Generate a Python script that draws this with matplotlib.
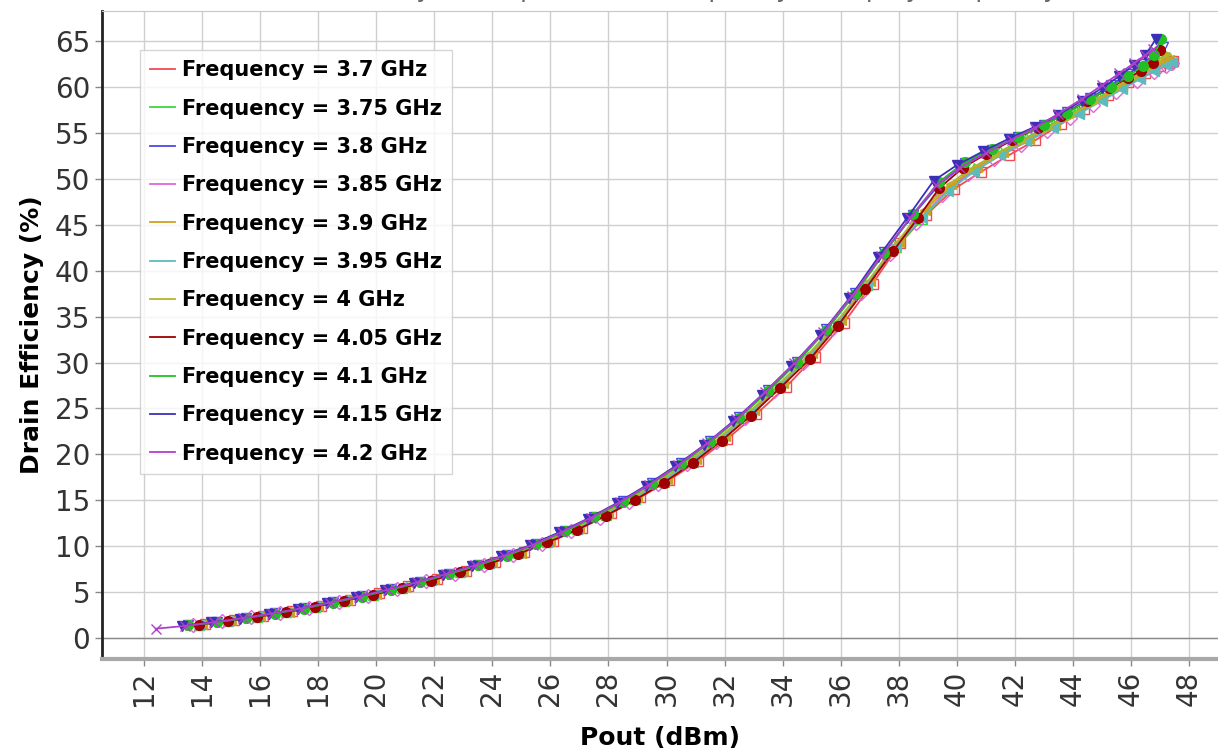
import matplotlib
matplotlib.use("Agg")
import matplotlib.pyplot as plt
from matplotlib.ticker import MultipleLocator

# frequencies (GHz) and per-frequency sweep data: Pout (dBm), drain efficiency (%)
freqs = ["3.7", "3.75", "3.8", "3.85", "3.9", "3.95", "4", "4.05", "4.1", "4.15", "4.2"]

pout_370 = [14.1, 15.1, 16.1, 17.1, 18.1, 19.1, 20.1, 21.1, 22.1, 23.1, 24.1, 25.1, 26.1, 27.1,
            28.1, 29.1, 30.1, 31.1, 32.1, 33.1, 34.1, 35.1, 36.1, 37.1, 38.05, 38.95, 39.9,
            40.85, 41.8, 42.7, 43.6, 44.4, 45.2, 45.9, 46.5, 47.0, 47.3, 47.45]
eff_370 = [1.5, 1.9, 2.4, 2.9, 3.5, 4.15, 4.85, 5.6, 6.4, 7.3, 8.3, 9.4, 10.6, 12.0,
           13.6, 15.3, 17.2, 19.3, 21.7, 24.4, 27.3, 30.6, 34.3, 38.6, 43.0, 46.1, 48.9,
           50.8, 52.6, 54.2, 56.0, 57.6, 59.2, 60.6, 61.6, 62.3, 62.6, 62.8]

pout_375 = [13.9, 14.9, 15.9, 16.9, 17.9, 18.9, 19.9, 20.9, 21.9, 22.9, 23.9, 24.9, 25.9, 26.9,
            27.9, 28.9, 29.9, 30.9, 31.9, 32.9, 33.9, 34.9, 35.9, 36.9, 37.9, 38.8, 39.7,
            40.6, 41.5, 42.4, 43.3, 44.1, 44.9, 45.6, 46.2, 46.7, 47.1, 47.3]
eff_375 = [1.45, 1.85, 2.3, 2.8, 3.4, 4.05, 4.7, 5.45, 6.3, 7.2, 8.15, 9.2, 10.45, 11.85,
           13.4, 15.1, 17.0, 19.15, 21.6, 24.4, 27.4, 30.6, 34.2, 38.4, 42.6, 45.6, 48.8,
           51.2, 53.0, 54.5, 56.0, 57.4, 58.9, 60.2, 61.3, 62.3, 63.0, 63.3]

pout_380 = [13.5, 14.5, 15.5, 16.5, 17.5, 18.5, 19.5, 20.5, 21.5, 22.5, 23.5, 24.5, 25.5, 26.5,
            27.5, 28.5, 29.5, 30.5, 31.5, 32.5, 33.5, 34.5, 35.5, 36.5, 37.5, 38.5, 39.4,
            40.3, 41.2, 42.1, 43.0, 43.8, 44.6, 45.3, 45.9, 46.4, 46.8, 47.1]
eff_380 = [1.35, 1.75, 2.2, 2.7, 3.25, 3.9, 4.55, 5.3, 6.1, 7.0, 7.95, 9.0, 10.25, 11.65,
           13.2, 14.95, 16.9, 19.0, 21.4, 24.1, 27.0, 30.1, 33.6, 37.6, 42.0, 46.1, 49.4,
           51.7, 53.2, 54.6, 55.9, 57.3, 58.8, 60.2, 61.4, 62.5, 63.5, 64.4]

pout_385 = [13.7, 14.7, 15.7, 16.7, 17.7, 18.7, 19.7, 20.7, 21.7, 22.7, 23.7, 24.7, 25.7, 26.7,
            27.7, 28.7, 29.7, 30.7, 31.7, 32.7, 33.7, 34.7, 35.7, 36.7, 37.7, 38.6, 39.5,
            40.4, 41.3, 42.2, 43.1, 43.9, 44.7, 45.5, 46.2, 46.8, 47.2, 47.4]
eff_385 = [1.4, 1.8, 2.25, 2.75, 3.3, 3.95, 4.6, 5.3, 6.15, 7.0, 7.95, 9.0, 10.2, 11.6,
           13.1, 14.85, 16.8, 18.9, 21.3, 24.0, 26.9, 30.0, 33.6, 37.6, 41.8, 45.2, 48.2,
           50.5, 52.2, 53.7, 55.2, 56.6, 58.1, 59.5, 60.7, 61.7, 62.3, 62.6]

pout_390 = [14.0, 15.0, 16.0, 17.0, 18.0, 19.0, 20.0, 21.0, 22.0, 23.0, 24.0, 25.0, 26.0, 27.0,
            28.0, 29.0, 30.0, 31.0, 32.0, 33.0, 34.0, 35.0, 36.0, 37.0, 38.0, 38.9, 39.8,
            40.7, 41.6, 42.5, 43.4, 44.2, 45.0, 45.7, 46.3, 46.8, 47.1, 47.3]
eff_390 = [1.5, 1.9, 2.35, 2.85, 3.45, 4.1, 4.8, 5.55, 6.4, 7.25, 8.25, 9.3, 10.6, 12.0,
           13.6, 15.35, 17.35, 19.5, 22.0, 24.8, 27.8, 31.0, 34.6, 38.9, 43.1, 46.6, 49.4,
           51.3, 52.9, 54.4, 55.9, 57.3, 58.8, 60.1, 61.2, 62.1, 62.7, 63.0]

pout_395 = [13.9, 14.9, 15.9, 16.9, 17.9, 18.9, 19.9, 20.9, 21.9, 22.9, 23.9, 24.9, 25.9, 26.9,
            27.9, 28.9, 29.9, 30.9, 31.9, 32.9, 33.9, 34.9, 35.9, 36.9, 37.9, 38.8, 39.7,
            40.6, 41.5, 42.4, 43.3, 44.2, 45.0, 45.7, 46.3, 46.8, 47.2, 47.4]
eff_395 = [1.45, 1.85, 2.35, 2.85, 3.45, 4.1, 4.75, 5.5, 6.3, 7.2, 8.2, 9.25, 10.5, 11.9,
           13.45, 15.2, 17.15, 19.3, 21.8, 24.6, 27.6, 30.8, 34.4, 38.6, 42.8, 45.8, 48.7,
           50.8, 52.6, 54.1, 55.6, 57.1, 58.5, 59.8, 60.9, 61.8, 62.4, 62.7]

pout_400 = [13.6, 14.6, 15.6, 16.6, 17.6, 18.6, 19.6, 20.6, 21.6, 22.6, 23.6, 24.6, 25.6, 26.6,
            27.6, 28.6, 29.6, 30.6, 31.6, 32.6, 33.6, 34.6, 35.6, 36.6, 37.6, 38.6, 39.5,
            40.4, 41.3, 42.2, 43.1, 43.9, 44.7, 45.4, 46.0, 46.5, 46.9, 47.2]
eff_400 = [1.35, 1.75, 2.2, 2.7, 3.25, 3.9, 4.55, 5.3, 6.1, 7.0, 7.95, 9.0, 10.2, 11.6,
           13.15, 14.85, 16.75, 18.9, 21.25, 23.9, 26.8, 29.9, 33.4, 37.4, 41.7, 45.8, 48.8,
           51.0, 52.6, 54.1, 55.5, 56.9, 58.4, 59.8, 61.0, 62.0, 62.9, 63.6]

pout_405 = [13.9, 14.9, 15.9, 16.9, 17.9, 18.9, 19.9, 20.9, 21.9, 22.9, 23.9, 24.9, 25.9, 26.9,
            27.9, 28.9, 29.9, 30.9, 31.9, 32.9, 33.9, 34.95, 35.9, 36.85, 37.8, 38.65, 39.4,
            40.2, 41.0, 41.9, 42.8, 43.6, 44.5, 45.25, 45.9, 46.35, 46.75, 47.0]
eff_405 = [1.45, 1.85, 2.3, 2.8, 3.4, 4.05, 4.7, 5.45, 6.25, 7.15, 8.1, 9.15, 10.4, 11.75,
           13.3, 15.0, 16.9, 19.05, 21.5, 24.2, 27.2, 30.4, 34.0, 38.0, 42.1, 45.7, 49.0,
           51.2, 52.7, 54.2, 55.6, 56.9, 58.5, 59.9, 61.0, 61.8, 62.6, 64.1]

pout_410 = [13.5, 14.5, 15.5, 16.5, 17.5, 18.5, 19.5, 20.5, 21.5, 22.5, 23.5, 24.5, 25.5, 26.5,
            27.5, 28.5, 29.5, 30.5, 31.5, 32.5, 33.5, 34.5, 35.5, 36.5, 37.5, 38.5, 39.4,
            40.3, 41.2, 42.1, 43.0, 43.8, 44.6, 45.3, 45.9, 46.4, 46.8, 47.05]
eff_410 = [1.35, 1.7, 2.15, 2.65, 3.2, 3.85, 4.5, 5.25, 6.05, 6.95, 7.9, 8.95, 10.2, 11.6,
           13.15, 14.85, 16.8, 18.9, 21.3, 23.95, 26.85, 30.0, 33.5, 37.5, 41.9, 46.2, 49.7,
           51.9, 53.3, 54.6, 55.9, 57.2, 58.7, 60.0, 61.2, 62.3, 63.5, 65.3]

pout_415 = [13.3, 14.3, 15.3, 16.3, 17.3, 18.3, 19.3, 20.3, 21.3, 22.3, 23.3, 24.3, 25.3, 26.3,
            27.3, 28.3, 29.3, 30.3, 31.3, 32.3, 33.3, 34.3, 35.3, 36.3, 37.3, 38.3, 39.2,
            40.0, 40.9, 41.8, 42.7, 43.5, 44.3, 45.0, 45.6, 46.1, 46.5, 46.85]
eff_415 = [1.3, 1.7, 2.1, 2.6, 3.15, 3.8, 4.45, 5.2, 6.0, 6.9, 7.85, 8.9, 10.1, 11.5,
           13.0, 14.7, 16.6, 18.7, 21.0, 23.6, 26.5, 29.6, 33.0, 37.0, 41.5, 45.8, 49.8,
           51.5, 53.0, 54.4, 55.7, 57.0, 58.5, 59.9, 61.2, 62.4, 63.5, 65.2]

pout_420 = [12.4, 13.4, 14.4, 15.4, 16.4, 17.4, 18.4, 19.4, 20.4, 21.4, 22.4, 23.4, 24.4, 25.4,
            26.4, 27.4, 28.4, 29.4, 30.4, 31.4, 32.4, 33.4, 34.4, 35.4, 36.4, 37.4, 38.4,
            39.3, 40.1, 41.0, 41.9, 42.7, 43.5, 44.3, 45.0, 45.6, 46.1, 46.5, 46.75]
eff_420 = [1.0, 1.3, 1.7, 2.15, 2.65, 3.2, 3.85, 4.5, 5.25, 6.05, 6.95, 7.9, 8.95, 10.15,
           11.55, 13.1, 14.8, 16.7, 18.8, 21.2, 23.8, 26.8, 29.9, 33.3, 37.3, 41.6, 45.8,
           49.3, 51.2, 52.8, 54.3, 55.6, 57.1, 58.7, 60.2, 61.5, 62.6, 63.5, 64.2]

pouts = [pout_370, pout_375, pout_380, pout_385, pout_390, pout_395,
         pout_400, pout_405, pout_410, pout_415, pout_420]
effs = [eff_370, eff_375, eff_380, eff_385, eff_390, eff_395,
        eff_400, eff_405, eff_410, eff_415, eff_420]

colors = ["#f04b55", "#3cd63c", "#4a4ae6", "#dd66dd", "#d0a020", "#5cbcbc",
          "#b4b430", "#a00000", "#22c022", "#3a30b8", "#b040c8"]
markers = ["s", "^", "v", "D", "<", "<", ">", "o", "o", "v", "x"]
filled = [False, False, False, False, True, True, True, True, True, True, True]

fig = plt.figure(figsize=(12.18, 7.54), dpi=100)
ax = fig.add_axes([0.0837, 0.126, 0.9163, 0.8594])

for f, x, y, c, m, fl in zip(freqs, pouts, effs, colors, markers, filled):
    ax.plot(x, y, color=c, lw=1.3, label="Frequency = %s GHz" % f)
    ax.plot(x, y, ls="none", marker=m, ms=7, mew=1.0, color=c,
            mfc=c if fl else "none", mec=c)

ax.set_xlim(10.55, 49.0)
ax.set_ylim(-2.3, 68.3)
ax.xaxis.set_major_locator(MultipleLocator(2))
ax.yaxis.set_major_locator(MultipleLocator(5))
ax.grid(True, color="#cfcfcf", lw=1.0)
ax.set_axisbelow(True)
ax.axhline(0, color="#8a8a8a", lw=1.0, zorder=1)

ax.spines["left"].set_color("#222222")
ax.spines["left"].set_linewidth(2.0)
ax.spines["bottom"].set_color("#a8a8a8")
ax.spines["bottom"].set_linewidth(3.0)
ax.spines["top"].set_color("#c8c8c8")
ax.spines["right"].set_visible(False)

ax.tick_params(axis="both", direction="out", length=5, color="#888888", width=1)
for lab in ax.get_xticklabels() + ax.get_yticklabels():
    lab.set_fontfamily("DejaVu Sans")
    lab.set_fontsize(20)
    lab.set_color("#333333")
for lab in ax.get_xticklabels():
    lab.set_rotation(90)

ax.set_xlabel("Pout (dBm)", fontsize=18, fontweight="bold", labelpad=14)
ax.set_ylabel("Drain Efficiency (%)", fontsize=18, fontweight="bold", labelpad=8)

leg = ax.legend(loc="upper left", bbox_to_anchor=(0.034, 0.94), borderaxespad=0,
                prop=dict(weight="bold", size=15), handlelength=1.2, handletextpad=0.3,
                labelspacing=0.88, frameon=True, fancybox=False, borderpad=0.5)
leg.get_frame().set_edgecolor("#cccccc")
leg.get_frame().set_linewidth(1.0)

# title sits mostly above the canvas, as in the source image
fig.text(0.53, 1.004, "Drain Efficiency vs Output Power, Frequency Sweep by Frequency",
         ha="center", va="baseline", fontsize=18, color="#666666")

fig.savefig("out.png", dpi=100)
